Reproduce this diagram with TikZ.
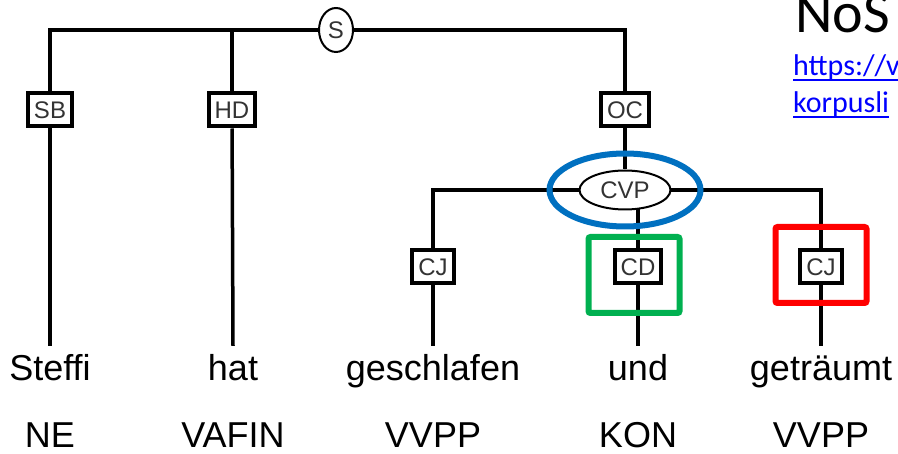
\documentclass[tikz,border=0pt]{standalone}
\usepackage{fontspec}
\setmainfont{Liberation Sans}
\newfontfamily\slidefont{Carlito}
\usetikzlibrary{shapes.geometric, backgrounds}
\definecolor{markblue}{HTML}{0070C0}
\definecolor{markgreen}{HTML}{00B050}
\definecolor{markred}{HTML}{FF0000}
\definecolor{linkblue}{HTML}{0000FF}
\tikzset{
  branch/.style={line width=3.5pt},
  fnbox/.style={draw, line width=4pt, fill=white, text=black!80,
    inner xsep=6pt, inner ysep=0pt, minimum height=33pt,
    font=\fontsize{24}{26}\selectfont},
  catnode/.style={draw, ellipse, line width=2pt, fill=white, text=black!80,
    inner sep=0pt, font=\fontsize{24}{26}\selectfont},
  tok/.style={anchor=base, inner xsep=0pt, inner ysep=9pt, text height=26pt,
    font=\fontsize{36}{40}\selectfont},
  postag/.style={anchor=base, inner sep=0pt, font=\fontsize{36}{40}\selectfont},
  hlring/.style={draw, ellipse, line width=6pt},
  hlbox/.style={draw, line width=6pt, rounded corners=2pt,
    minimum width=91pt, minimum height=76pt},
}
\begin{document}
\begin{tikzpicture}[x=1pt, y=-1pt]
  \useasboundingbox (0,0) rectangle (898,454);
  \clip (0,0) rectangle (898,454);

  % categories and functions
  \node[catnode, minimum width=34pt, minimum height=44pt] (S) at (336,30) {S};
  \node[fnbox] (SB) at (50,110) {SB};
  \node[fnbox] (HD) at (232,110) {HD};
  \node[fnbox] (OC) at (625,110) {OC};
  \node[catnode, minimum width=91pt, minimum height=39pt] (CVP) at (625,190) {CVP};
  \node[fnbox] (cj1) at (433,267) {CJ};
  \node[fnbox] (CD) at (638,267) {CD};
  \node[fnbox] (cj2) at (821,267) {CJ};

  % words and tags
  \node[tok] (w1) at (50,381) {Steffi};
  \node[tok] (w2) at (233,381) {hat};
  \node[tok] (w3) at (433,381) {geschlafen};
  \node[tok] (w4) at (638,381) {und};
  \node[tok] (w5) at (821,381) {geträumt};
  \node[postag] (t1) at (50,448) {NE};
  \node[postag] (t2) at (233,448) {VAFIN};
  \node[postag] (t3) at (433,448) {VVPP};
  \node[postag] (t4) at (638,448) {KON};
  \node[postag] (t5) at (821,448) {VVPP};

  \begin{scope}[on background layer]
    \draw[branch] (S) -| (SB);
    \draw[branch] (S) -| (HD);
    \draw[branch] (S) -| (OC);
    \draw[branch] (OC) -- (CVP);
    \draw[branch] (CVP) -| (cj1);
    \draw[branch] (CVP) -| (CD);
    \draw[branch] (CVP) -| (cj2);
    \draw[branch] (SB) -- (w1.north);
    \draw[branch] (HD) -- (w2.north);
    \draw[branch] (cj1) -- (w3.north);
    \draw[branch] (CD) -- (w4.north);
    \draw[branch] (cj2) -- (w5.north);
  \end{scope}

  % highlights
  \node[hlring, draw=markblue, minimum width=151pt, minimum height=73pt] (cvpring) at (625,190) {};
  \node[hlbox, draw=markgreen] (cdframe) at (634,275) {};
  \node[hlbox, draw=markred] (cjframe) at (821,265) {};

  % slide text, cut at the right edge
  \node[anchor=base west, inner sep=0pt, font=\slidefont\fontsize{58}{64}\selectfont] (title) at (795,33) {NoS};
  \node[anchor=base west, inner sep=0pt, text=linkblue, font=\slidefont\fontsize{30}{36}\selectfont] (url1) at (793,76) {https://v};
  \node[anchor=base west, inner sep=0pt, text=linkblue, font=\slidefont\fontsize{30}{36}\selectfont] (url2) at (793,113) {korpusli};
  \draw[linkblue, line width=1.5pt] ([yshift=-4pt]url1.base west) -- ([yshift=-4pt]url1.base east);
  \draw[linkblue, line width=1.5pt] ([yshift=-4pt]url2.base west) -- ([yshift=-4pt]url2.base east);
\end{tikzpicture}
\end{document}
